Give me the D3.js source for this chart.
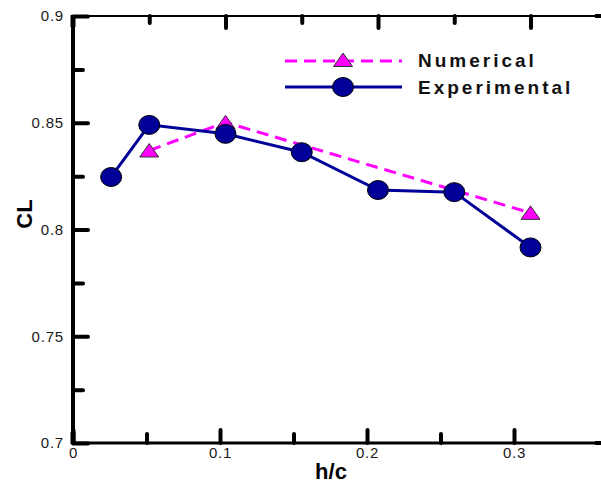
<!DOCTYPE html>
<html><head><meta charset="utf-8">
<script src="https://cdn.jsdelivr.net/npm/d3@7"></script>
<style>
body{margin:0;background:#fff;overflow:hidden;} svg{display:block;}
</style>
</head><body>
<script>
const hcExp = [0.025, 0.05, 0.1, 0.15, 0.2, 0.25, 0.3];
const clExp = [0.8246, 0.849, 0.8448, 0.8362, 0.8185, 0.8175, 0.7916];
const hcNum = [0.05, 0.1, 0.3];
const clNum = [0.837, 0.8502, 0.8078];
const xMajor = [0, 0.1, 0.2, 0.3];
const xMinor = [0.05, 0.15, 0.25];
const topMajor = [0.1, 0.2, 0.3];
const topMinor = [0.05, 0.15, 0.25];
const yMajor = [0.7, 0.75, 0.8, 0.85, 0.9];
const yMinor = [0.725, 0.775, 0.825, 0.875];
const seriesNames = ["Numerical", "Experimental"];

const W = 601, H = 484;
const svg = d3.select("body").append("svg").attr("width", W).attr("height", H);
const L = 73, R = 601, T = 16, B = 443;
const xData = d3.scaleLinear().domain([0, 0.35]).range([L, L + 0.35 * 1525]);
const xBot = d3.scaleLinear().domain([0, 0.35]).range([L, L + 0.35 * 1470]);
const y = d3.scaleLinear().domain([0.7, 0.9]).range([B, T]);

const font = "'Liberation Sans', Arial, sans-serif";
const fmt = d => String(d);

function styleAxis(g) {
  g.select(".domain").remove();
  g.selectAll(".tick line").attr("stroke", "#000").attr("stroke-width", 4).attr("stroke-linecap", "round");
  g.selectAll(".tick text").attr("font-family", font).attr("font-size", 15)
    .attr("letter-spacing", 0.8).attr("fill", "#1a1a1a");
}
function addAxis(axis, tx, ty) {
  return svg.append("g").attr("transform", `translate(${tx},${ty})`).call(axis).call(styleAxis);
}
// bottom
addAxis(d3.axisBottom(xBot).tickValues(xMajor).tickSizeInner(-13).tickSizeOuter(0).tickPadding(4).tickFormat(fmt), 0, B);
addAxis(d3.axisBottom(xBot).tickValues(xMinor).tickSizeInner(-9).tickSizeOuter(0).tickFormat(() => ""), 0, B);
// top
addAxis(d3.axisTop(xData).tickValues(topMajor).tickSizeInner(-12).tickSizeOuter(0).tickFormat(() => ""), 0, T);
addAxis(d3.axisTop(xData).tickValues(topMinor).tickSizeInner(-7).tickSizeOuter(0).tickFormat(() => ""), 0, T);
// left
addAxis(d3.axisLeft(y).tickValues(yMajor).tickSizeInner(-15).tickSizeOuter(0).tickPadding(9).tickFormat(fmt), L, 0);
addAxis(d3.axisLeft(y).tickValues(yMinor).tickSizeInner(-10).tickSizeOuter(0).tickFormat(() => ""), L, 0);

// frame lines
svg.append("path").attr("d", `M${L},${B}H${R}`).attr("stroke", "#000").attr("stroke-width", 3).attr("fill", "none");
svg.append("path").attr("d", `M${L},${T}H${R}`).attr("stroke", "#000").attr("stroke-width", 2.2).attr("fill", "none");
svg.append("path").attr("d", `M${L},${T - 1}V${B + 1}`).attr("stroke", "#000").attr("stroke-width", 4).attr("fill", "none");
svg.append("path").attr("d", `M${R - 6},${B}H${R}M${R - 6},${T}H${R}`).attr("stroke", "#000").attr("stroke-width", 4).attr("fill", "none");
svg.append("path").attr("d", `M${L},${B - 11}V${B + 1}M${L},${T - 1}V${T + 11}`).attr("stroke", "#000").attr("stroke-width", 5).attr("fill", "none");

// axis titles
svg.append("text").attr("x", 331).attr("y", 479).attr("text-anchor", "middle")
  .attr("font-family", font).attr("font-weight", "bold").attr("font-size", 22).text("h/c");
svg.append("text").attr("transform", "translate(32,214) rotate(-90)").attr("text-anchor", "middle")
  .attr("font-family", font).attr("font-weight", "bold").attr("font-size", 22).text("CL");

const magenta = "#ff00ff", navy = "#000099";
const numData = hcNum.map((h, i) => [h, clNum[i]]);
const expData = hcExp.map((h, i) => [h, clExp[i]]);
const line = d3.line().x(d => xData(d[0])).y(d => y(d[1]));

svg.append("path").datum(numData).attr("d", line).attr("fill", "none")
  .attr("stroke", magenta).attr("stroke-width", 3).attr("stroke-dasharray", "12,7");
svg.append("path").datum(expData).attr("d", line).attr("fill", "none")
  .attr("stroke", navy).attr("stroke-width", 3);

function tri(cx, cy) {
  return `M${cx},${cy - 7}L${cx + 9.5},${cy + 6.5}L${cx - 9.5},${cy + 6.5}Z`;
}
svg.selectAll(".tri").data(numData).enter().append("path")
  .attr("d", d => tri(xData(d[0]), y(d[1])))
  .attr("fill", magenta).attr("stroke", "#333").attr("stroke-width", 1);
svg.selectAll(".ell").data(expData).enter().append("ellipse")
  .attr("cx", d => xData(d[0])).attr("cy", d => y(d[1])).attr("rx", 10.5).attr("ry", 9.5)
  .attr("fill", navy).attr("stroke", "#000").attr("stroke-width", 1);

// legend
const lg = svg.append("g");
const ly = [61, 87];
lg.append("path").attr("d", "M285," + ly[0] + "H402")
  .attr("stroke", magenta).attr("stroke-width", 3).attr("stroke-dasharray", "12,7");
lg.append("path").attr("d", tri(343, ly[0] - 1)).attr("fill", magenta).attr("stroke", "#333").attr("stroke-width", 1);
lg.append("path").attr("d", "M285," + ly[1] + "H402")
  .attr("stroke", navy).attr("stroke-width", 3);
lg.append("ellipse").attr("cx", 343).attr("cy", ly[1]).attr("rx", 10.5).attr("ry", 9.5)
  .attr("fill", navy).attr("stroke", "#000").attr("stroke-width", 1);
seriesNames.forEach((n, i) => {
  lg.append("text").attr("x", 418).attr("y", [67, 94][i])
    .attr("font-family", font).attr("font-weight", "bold").attr("font-size", 19)
    .attr("letter-spacing", 3).attr("fill", "#111").text(n);
});
</script>
</body></html>
